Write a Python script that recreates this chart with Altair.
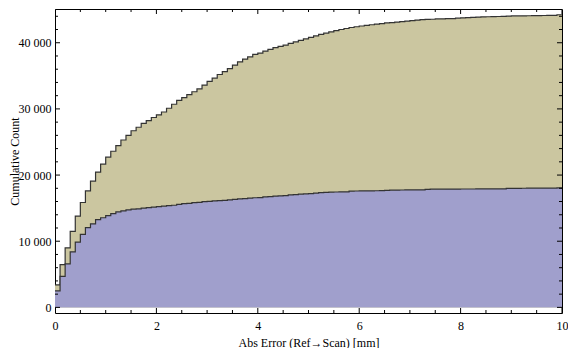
import altair as alt
import pandas as pd

# ---- data (cumulative counts per 0.1 mm bin) ----
BIN_WIDTH = 0.1
TAN = [3400, 6450, 9000, 11500, 13800, 15850, 17600, 19070, 20450, 21650,
       22700, 23600, 24450, 25300, 26000, 26700, 27230, 27800, 28230, 28700,
       29100, 29530, 30100, 30700, 31280, 31710, 32150, 32590, 33020, 33600,
       34150, 34650, 35200, 35640, 36080, 36620, 37120, 37530, 37850, 38230,
       38440, 38740, 39000, 39270, 39460, 39650, 39900, 40120, 40350, 40580,
       40800, 41030, 41250, 41450, 41650, 41830, 42000, 42150, 42300, 42420,
       42530, 42620, 42720, 42820, 42900, 43000, 43050, 43120, 43200, 43270,
       43350, 43420, 43480, 43520, 43550, 43600, 43620, 43640, 43660, 43720,
       43760, 43790, 43820, 43880, 43910, 43930, 43950, 43970, 44000, 44030,
       44050, 44060, 44070, 44080, 44090, 44110, 44120, 44130, 44140, 44230]
BLUE = [2500, 4680, 6570, 8400, 9870, 11020, 12050, 12630, 13250, 13550,
        13880, 14170, 14450, 14600, 14750, 14850, 14900, 15000, 15080, 15140,
        15230, 15290, 15380, 15440, 15580, 15670, 15730, 15820, 15870, 15970,
        16020, 16090, 16130, 16160, 16260, 16310, 16410, 16450, 16520, 16570,
        16600, 16700, 16740, 16820, 16860, 16890, 16990, 17030, 17110, 17150,
        17180, 17280, 17330, 17390, 17420, 17440, 17460, 17470, 17560, 17590,
        17600, 17610, 17620, 17630, 17640, 17700, 17720, 17730, 17740, 17750,
        17760, 17765, 17770, 17850, 17860, 17865, 17870, 17875, 17880, 17885,
        17890, 17893, 17896, 17899, 17902, 17905, 17908, 17910, 17912, 17980,
        17990, 18000, 18005, 18010, 18015, 18020, 18030, 18035, 18040, 18050]

X_TICKS_MAJOR = [0, 2, 4, 6, 8, 10]
X_TICKS_MINOR = [0.5, 1, 1.5, 2.5, 3, 3.5, 4.5, 5, 5.5, 6.5, 7, 7.5, 8.5, 9, 9.5]
Y_TICKS_MAJOR = [0, 10000, 20000, 30000, 40000]
Y_TICKS_MINOR = [2000, 4000, 6000, 8000, 12000, 14000, 16000, 18000,
                 22000, 24000, 26000, 28000, 32000, 34000, 36000, 38000,
                 42000, 44000]
X_DOMAIN = [0, 10]
Y_DOMAIN = [-850, 45100]
X_TITLE = "Abs Error (Ref\u2192Scan) [mm]"
Y_TITLE = "Cumulative Count"

TAN_COLOR = "#CBC6A0"
BLUE_COLOR = "#A09FCC"
EDGE_COLOR = "#333333"
FONT = "Liberation Serif"

W, H = 507, 304


def steps(vals):
    n = len(vals)
    xs = [round(i * BIN_WIDTH, 1) for i in range(n + 1)]
    ys = list(vals) + [vals[-1]]
    return pd.DataFrame({"x": xs, "count": ys})


tan_df = steps(TAN)
blue_df = steps(BLUE)

xscale = alt.Scale(domain=X_DOMAIN, nice=False, zero=False)
yscale = alt.Scale(domain=Y_DOMAIN, nice=False, zero=False)

x_axis = alt.Axis(values=X_TICKS_MAJOR, ticks=False, domain=False, grid=False,
                  labelPadding=7, labelFlush=False, title=X_TITLE, titlePadding=6)
y_axis = alt.Axis(values=Y_TICKS_MAJOR, ticks=False, domain=False, grid=False,
                  labelPadding=4, title=Y_TITLE, titleX=-41,
                  titleBaseline="middle",
                  labelExpr="replace(format(datum.value, ','), ',', ' ')")

base_x = alt.X("x:Q", scale=xscale, axis=x_axis)
base_y = alt.Y("count:Q", scale=yscale, axis=y_axis)

tan_area = alt.Chart(tan_df).mark_area(interpolate="step-after", color=TAN_COLOR).encode(
    x=base_x, y=base_y, y2=alt.datum(0))
tan_line = alt.Chart(tan_df).mark_line(interpolate="step-after", color=EDGE_COLOR,
                                       strokeWidth=1.2).encode(x=base_x, y=base_y)
blue_area = alt.Chart(blue_df).mark_area(interpolate="step-after", color=BLUE_COLOR).encode(
    x=base_x, y=base_y, y2=alt.datum(0))
blue_line = alt.Chart(blue_df).mark_line(interpolate="step-after", color=EDGE_COLOR,
                                         strokeWidth=1.2).encode(x=base_x, y=base_y)

xt = pd.DataFrame({"v": X_TICKS_MAJOR + X_TICKS_MINOR,
                   "len": [10] * len(X_TICKS_MAJOR) + [6] * len(X_TICKS_MINOR)})
yt = pd.DataFrame({"v": Y_TICKS_MAJOR + Y_TICKS_MINOR,
                   "len": [10] * len(Y_TICKS_MAJOR) + [6] * len(Y_TICKS_MINOR)})


def xticks(ypos):
    return alt.Chart(xt).mark_tick(color="black", thickness=1, clip=True,
                                   orient="vertical", opacity=1).encode(
        x=alt.X("v:Q", scale=xscale, axis=x_axis),
        y=alt.value(ypos),
        size=alt.Size("len:Q", scale=None, legend=None),
    )


def yticks(xpos):
    return alt.Chart(yt).mark_tick(color="black", thickness=1, clip=True,
                                   orient="horizontal", opacity=1).encode(
        y=alt.Y("v:Q", scale=yscale, axis=y_axis),
        x=alt.value(xpos),
        size=alt.Size("len:Q", scale=None, legend=None),
    )


chart = alt.layer(
    tan_area, tan_line, blue_area, blue_line,
    xticks(H), xticks(0), yticks(0), yticks(W),
).properties(
    width=W, height=H,
    autosize=alt.AutoSizeParams(type="none"),
    padding={"left": 47, "top": 1, "right": 6, "bottom": 35},
).configure_view(
    stroke="black",
).configure_axis(
    labelFont=FONT, titleFont=FONT, labelFontSize=12, titleFontSize=12,
    titleFontWeight="normal", labelColor="black", titleColor="black",
)

chart.save("out.html", embed_options={"renderer": "svg", "actions": False})
